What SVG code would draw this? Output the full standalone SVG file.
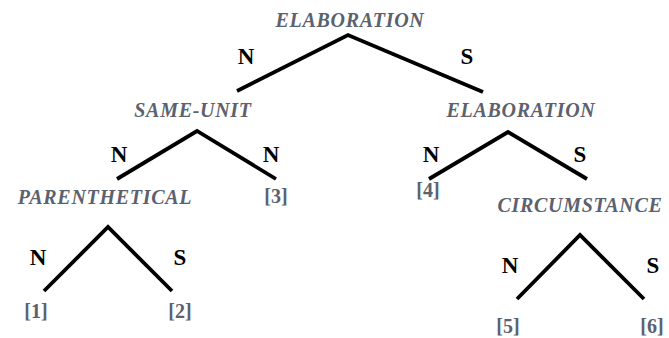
<svg xmlns="http://www.w3.org/2000/svg" width="669" height="338" viewBox="0 0 669 338">
<style>
.rel{font-family:'Liberation Serif','Times New Roman',Tinos,Times,serif;font-weight:700;font-style:italic;font-size:20px;letter-spacing:0.7px;fill:#5b616e;text-anchor:middle}
.leaf{font-family:'Liberation Serif','Times New Roman',Tinos,Times,serif;font-weight:700;font-size:20px;fill:#5b616e;text-anchor:middle}
.ns{font-family:'Liberation Serif','Times New Roman',Tinos,Times,serif;font-weight:700;font-size:23px;fill:#000;text-anchor:middle}
.edge{fill:none;stroke:#000;stroke-width:3.8;stroke-linejoin:miter}
</style>
<rect width="669" height="338" fill="#fff"/>
<g id="connectors">
<polyline class="edge" points="237,91 348,35 483,92"/>
<polyline class="edge" points="117,179 197,131 276,179"/>
<polyline class="edge" points="429,179 508,132 587,179"/>
<polyline class="edge" points="44,291 108,227 172,291"/>
<polyline class="edge" points="517,299 580,235 644,299"/>
<text class="ns" x="246" y="64">N</text>
<text class="ns" x="467" y="64">S</text>
<text class="ns" x="119" y="162">N</text>
<text class="ns" x="271" y="162">N</text>
<text class="ns" x="431" y="162">N</text>
<text class="ns" x="580" y="162">S</text>
<text class="ns" x="38" y="265">N</text>
<text class="ns" x="180" y="265">S</text>
<text class="ns" x="510" y="273">N</text>
<text class="ns" x="653" y="273">S</text>
</g>
<g id="n-elab-root"><text class="rel" x="350" y="27">ELABORATION</text></g>
<g id="n-same-unit"><text class="rel" x="193" y="117">SAME-UNIT</text></g>
<g id="n-elab-2"><text class="rel" x="521" y="117">ELABORATION</text></g>
<g id="n-parenthetical"><text class="rel" x="105" y="204">PARENTHETICAL</text></g>
<g id="n-3"><text class="leaf" x="276" y="203">[3]</text></g>
<g id="n-4"><text class="leaf" x="428" y="197">[4]</text></g>
<g id="n-circumstance"><text class="rel" x="580" y="212">CIRCUMSTANCE</text></g>
<g id="n-1"><text class="leaf" x="36" y="318">[1]</text></g>
<g id="n-2"><text class="leaf" x="180" y="318">[2]</text></g>
<g id="n-5"><text class="leaf" x="508" y="333">[5]</text></g>
<g id="n-6"><text class="leaf" x="652" y="333">[6]</text></g>
</svg>
